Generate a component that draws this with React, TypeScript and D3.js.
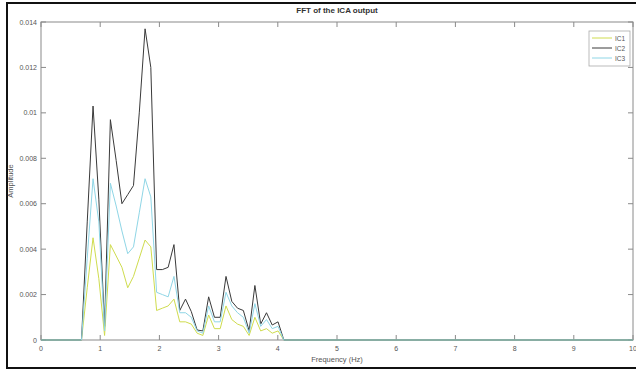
import { useEffect, useRef } from "react"
import * as d3 from "d3"

// Frequency bins (Hz)
const freqs = [
  0, 0.684, 0.781, 0.879, 0.977, 1.074, 1.172, 1.27, 1.367, 1.465, 1.562, 1.66, 1.758, 1.855,
  1.953, 2.05, 2.148, 2.246, 2.344, 2.441, 2.539, 2.637, 2.734, 2.832, 2.93, 3.027, 3.125,
  3.223, 3.32, 3.418, 3.516, 3.613, 3.711, 3.809, 3.906, 4.004, 4.102, 10,
]

const ic1 = [
  0, 0, 0.0023, 0.0045, 0.0027, 0.0002, 0.0042, 0.0037, 0.0032, 0.0023, 0.0028, 0.0036, 0.0044, 0.0041,
  0.0013, 0.0014, 0.0015, 0.0018, 0.0008, 0.0008, 0.0007, 0.0003, 0.0002, 0.0011, 0.0005, 0.0005, 0.0015,
  0.0009, 0.0007, 0.0006, 0.0002, 0.001, 0.0004, 0.0005, 0.0003, 0.0004, 0, 0,
]

const ic2 = [
  0, 0, 0.0052, 0.0103, 0.0062, 0.0006, 0.0097, 0.0079, 0.006, 0.0064, 0.0068, 0.01, 0.0137, 0.012,
  0.0031, 0.0031, 0.0032, 0.0042, 0.0013, 0.0018, 0.00125, 0.00044, 0.0004, 0.0019, 0.001, 0.001, 0.0028,
  0.0017, 0.0014, 0.0013, 0.0004, 0.0024, 0.0007, 0.0012, 0.00066, 0.0008, 0, 0,
]

const ic3 = [
  0, 0, 0.0036, 0.0071, 0.0052, 0.0004, 0.0069, 0.0059, 0.0048, 0.0038, 0.0041, 0.0056, 0.0071, 0.0063,
  0.0021, 0.002, 0.0019, 0.0028, 0.0012, 0.0012, 0.001, 0.0004, 0.0003, 0.0015, 0.0008, 0.0008, 0.0021,
  0.0015, 0.0012, 0.001, 0.0003, 0.0016, 0.0006, 0.0009, 0.0005, 0.0006, 0, 0,
]

const seriesNames = ["IC1", "IC2", "IC3"]
const seriesColors = ["#cfdc4e", "#3a3a3a", "#8fd6e6"]
const xTicks = [0, 1, 2, 3, 4, 5, 6, 7, 8, 9, 10]
const yTicks = [0, 0.002, 0.004, 0.006, 0.008, 0.01, 0.012, 0.014]

export default function App() {
  const svgRef = useRef<SVGSVGElement>(null)

  useEffect(() => {
    if (!svgRef.current) return
    const W = 636
    const H = 369
    const margin = { top: 22, right: 3, bottom: 29, left: 41 }
    const width = W - margin.left - margin.right
    const height = H - margin.top - margin.bottom

    const root = d3.select(svgRef.current)
    root.selectAll("*").remove()
    root.attr("width", W).attr("height", H)

    root.append("rect").attr("width", W).attr("height", H).attr("fill", "white")

    // outer figure frame
    root
      .append("rect")
      .attr("x", 7)
      .attr("y", 3)
      .attr("width", 640)
      .attr("height", 365)
      .attr("fill", "none")
      .attr("stroke", "#111")
      .attr("stroke-width", 2)

    const svg = root.append("g").attr("transform", `translate(${margin.left},${margin.top})`)

    const x = d3.scaleLinear().domain([0, 10]).range([0, width])
    const y = d3.scaleLinear().domain([0, 0.014]).range([height, 0])

    const font = "'Liberation Sans', Arial, sans-serif"
    const axisColor = "#8a8a8a"
    const labelColor = "#555"

    // box
    svg
      .append("rect")
      .attr("width", width)
      .attr("height", height)
      .attr("fill", "none")
      .attr("stroke", axisColor)
      .attr("stroke-width", 1)

    // x ticks (bottom and top, inward)
    xTicks.forEach((t) => {
      svg.append("line").attr("x1", x(t)).attr("x2", x(t)).attr("y1", height).attr("y2", height - 5)
        .attr("stroke", axisColor)
      svg.append("line").attr("x1", x(t)).attr("x2", x(t)).attr("y1", 0).attr("y2", 5)
        .attr("stroke", axisColor)
      svg.append("text")
        .attr("x", x(t))
        .attr("y", height + 11)
        .attr("text-anchor", "middle")
        .style("font-family", font)
        .style("font-size", "7px")
        .attr("fill", labelColor)
        .text(String(t))
    })

    // y ticks (left and right, inward)
    yTicks.forEach((t) => {
      svg.append("line").attr("x1", 0).attr("x2", 5).attr("y1", y(t)).attr("y2", y(t))
        .attr("stroke", axisColor)
      svg.append("line").attr("x1", width).attr("x2", width - 5).attr("y1", y(t)).attr("y2", y(t))
        .attr("stroke", axisColor)
      svg.append("text")
        .attr("x", -4)
        .attr("y", y(t) + 2.5)
        .attr("text-anchor", "end")
        .style("font-family", font)
        .style("font-size", "7px")
        .attr("fill", labelColor)
        .text(String(+t.toFixed(3)))
    })

    // lines
    const allSeries = [ic1, ic2, ic3]
    const line = d3
      .line<number>()
      .x((_d, i) => x(freqs[i]))
      .y((d) => y(d))

    allSeries.forEach((s, k) => {
      svg.append("path")
        .datum(s)
        .attr("d", line)
        .attr("fill", "none")
        .attr("stroke", seriesColors[k])
        .attr("stroke-width", 1)
    })

    // title
    svg.append("text")
      .attr("x", width / 2)
      .attr("y", -9)
      .attr("text-anchor", "middle")
      .style("font-family", font)
      .style("font-size", "8px")
      .style("font-weight", "bold")
      .attr("fill", "#333")
      .text("FFT of the ICA output")

    // axis labels
    svg.append("text")
      .attr("x", width / 2)
      .attr("y", height + 22)
      .attr("text-anchor", "middle")
      .style("font-family", font)
      .style("font-size", "7.5px")
      .attr("fill", labelColor)
      .text("Frequency (Hz)")

    svg.append("text")
      .attr("transform", `translate(${-28},${height / 2}) rotate(-90)`)
      .attr("text-anchor", "middle")
      .style("font-family", font)
      .style("font-size", "7.5px")
      .attr("fill", labelColor)
      .text("Amplitude")

    // legend
    const legend = root.append("g").attr("transform", "translate(589,31)")
    legend.append("rect")
      .attr("width", 41)
      .attr("height", 35)
      .attr("fill", "white")
      .attr("stroke", "#aaa")
      .attr("stroke-width", 0.8)
    seriesNames.forEach((name, k) => {
      const ly = 7 + k * 10
      legend.append("line")
        .attr("x1", 3).attr("x2", 23).attr("y1", ly).attr("y2", ly)
        .attr("stroke", seriesColors[k])
        .attr("stroke-width", 1)
      legend.append("text")
        .attr("x", 26)
        .attr("y", ly + 2.5)
        .style("font-family", font)
        .style("font-size", "6.5px")
        .attr("fill", labelColor)
        .text(name)
    })
  }, [])

  return (
    <div style={{ position: "absolute", left: 0, top: 0 }}>
      <svg ref={svgRef} style={{ display: "block" }} />
    </div>
  )
}
